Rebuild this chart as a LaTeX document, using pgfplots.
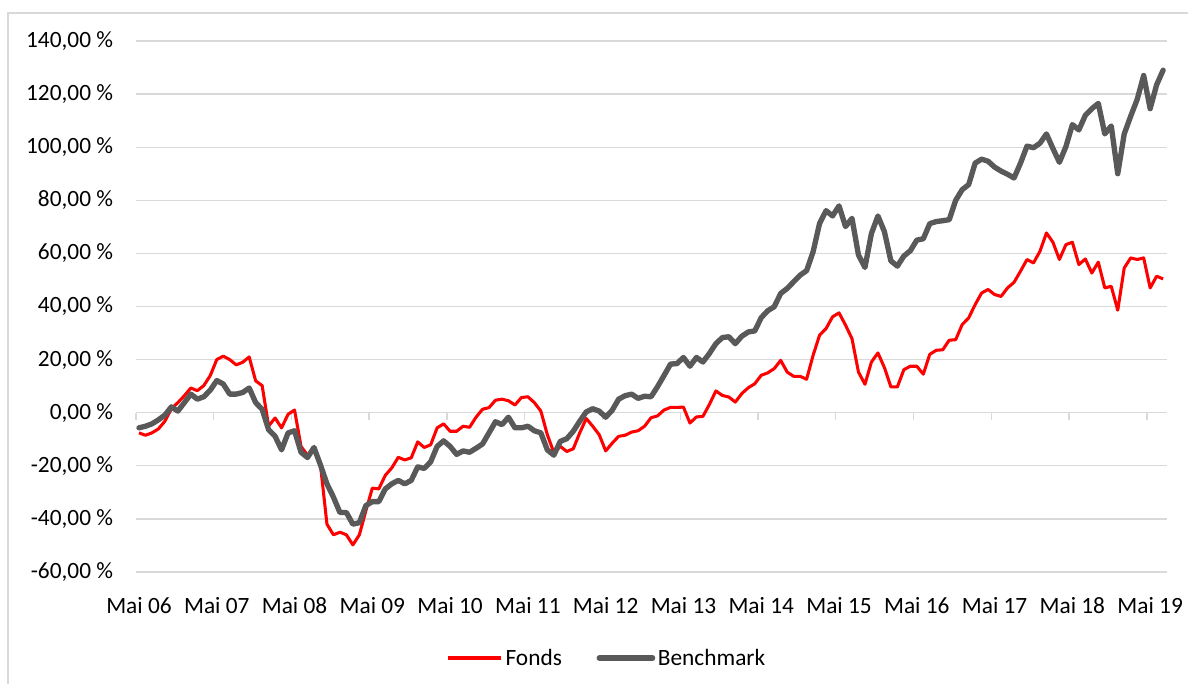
\documentclass[border=0pt]{standalone}
\usepackage{fontspec}
\setmainfont{Carlito}
\usepackage{pgfplots}
\pgfplotsset{compat=1.18}
\definecolor{fondsred}{HTML}{FF0000}
\definecolor{benchgray}{HTML}{595959}
\definecolor{gridgray}{HTML}{D9D9D9}
\definecolor{framegray}{HTML}{D9D9D9}

\begin{document}
\begin{tikzpicture}
\useasboundingbox (0,0) rectangle (891pt,513pt);
\draw[framegray, line width=1pt] (6pt,-20pt) -- (6pt,503.25pt) -- (920pt,503.25pt);
\begin{axis}[
  at={(102pt,84pt)}, anchor=south west,
  scale only axis, width=773.25pt, height=398.25pt,
  xmin=-0.46, xmax=158.6, ymin=-60, ymax=140,
  axis line style={draw=none},
  tick style={draw=none},
  clip=false,
  ytick={-60,-40,...,140},
  yticklabels={{-60,00 \%},{-40,00 \%},{-20,00 \%},{0,00 \%},{20,00 \%},{40,00 \%},{60,00 \%},{80,00 \%},{100,00 \%},{120,00 \%},{140,00 \%}},
  ymajorgrids, grid style={gridgray, line width=1pt},
  xtick={0,12,...,156},
  xticklabels={Mai 06,Mai 07,Mai 08,Mai 09,Mai 10,Mai 11,Mai 12,Mai 13,Mai 14,Mai 15,Mai 16,Mai 17,Mai 18,Mai 19},
  tick label style={font=\fontsize{17.5}{21}\selectfont, text=black},
  xticklabel style={anchor=north, inner sep=0pt, yshift=-19pt},
  yticklabel style={anchor=east, inner sep=0pt, xshift=-17pt},
  legend style={at={(0.457,-0.162)}, anchor=center, draw=none, fill=none,
    legend columns=2, font=\fontsize{17.5}{21}\selectfont,
    /tikz/every even column/.append style={column sep=24pt}},
  legend image code/.code={\draw[#1] (0pt,0pt) -- (40pt,0pt);},
]
\draw[gridgray, line width=1pt] (axis cs:-0.46,0) -- (axis cs:158.6,0);
\pgfplotsinvokeforeach{-0.46,11.5,23.5,35.5,47.5,59.5,71.5,83.5,95.5,107.5,119.5,131.5,143.5,155.5}{
  \draw[gridgray, line width=1pt] (axis cs:#1,0) -- ([yshift=-5.8pt]axis cs:#1,0);
}
\addplot[fondsred, line width=2.3pt, line join=round] coordinates {
(0,-7.6)(1,-8.5)(2,-7.6)(3,-6.1)(4,-3.2)(5,1.5)(6,3.8)(7,6.4)(8,9.3)(9,8.3)
(10,10.2)(11,14)(12,20)(13,21.3)(14,20)(15,18)(16,19)(17,21)(18,12)(19,10.2)
(20,-5)(21,-2)(22,-5.7)(23,-0.6)(24,1)(25,-12.7)(26,-16)(27,-14)(28,-19.7)(29,-42)
(30,-46)(31,-45)(32,-46)(33,-49.8)(34,-46)(35,-37)(36,-28.4)(37,-28.7)(38,-23.6)(39,-20.8)
(40,-16.8)(41,-17.8)(42,-17)(43,-11)(44,-13.1)(45,-12.1)(46,-5.7)(47,-4.2)(48,-7)(49,-7)
(50,-5.1)(51,-5.5)(52,-1.7)(53,1.3)(54,1.9)(55,4.7)(56,5.1)(57,4.5)(58,2.9)(59,5.7)
(60,6)(61,3.8)(62,0.6)(63,-8.3)(64,-15)(65,-12.7)(66,-14.6)(67,-13.6)(68,-7.6)(69,-2.2)
(70,-5.1)(71,-8.3)(72,-14.4)(73,-11.5)(74,-8.9)(75,-8.5)(76,-7.3)(77,-6.8)(78,-5.1)(79,-1.9)
(80,-1.2)(81,1)(82,2)(83,2)(84,2.1)(85,-3.9)(86,-1.6)(87,-1.4)(88,3.1)(89,8.2)
(90,6.5)(91,5.9)(92,4)(93,7.2)(94,9.4)(95,10.9)(96,14.1)(97,15)(98,16.6)(99,19.7)
(100,15.3)(101,13.7)(102,13.7)(103,12.6)(104,21.6)(105,29.2)(106,31.7)(107,36.1)(108,37.6)(109,33)
(110,27.9)(111,15.3)(112,10.7)(113,19.1)(114,22.5)(115,17)(116,9.7)(117,9.7)(118,16.2)(119,17.5)
(120,17.5)(121,14.5)(122,22)(123,23.5)(124,23.7)(125,27.3)(126,27.5)(127,33.2)(128,35.7)(129,40.7)
(130,45.1)(131,46.4)(132,44.5)(133,43.8)(134,47)(135,49.1)(136,53.3)(137,57.7)(138,56.4)(139,60.8)
(140,67.7)(141,64.2)(142,57.7)(143,63.3)(144,64.2)(145,55.8)(146,57.9)(147,52.6)(148,56.7)(149,47)
(150,47.6)(151,38.6)(152,54.5)(153,58.3)(154,57.7)(155,58.3)(156,47)(157,51.4)(158,50.4)
};
\addlegendentry{Fonds}
\addplot[benchgray, line width=4pt, line join=round, line cap=round] coordinates {
(0,-5.7)(1,-5.1)(2,-4.2)(3,-2.7)(4,-0.9)(5,2.2)(6,0.6)(7,3.8)(8,7)(9,5.1)
(10,6)(11,8.5)(12,12.1)(13,10.8)(14,7)(15,7)(16,7.6)(17,9.3)(18,3.8)(19,1.3)
(20,-6.4)(21,-8.9)(22,-14)(23,-7.6)(24,-6.8)(25,-14.9)(26,-16.9)(27,-13.1)(28,-19.7)(29,-26.8)
(30,-31.8)(31,-37.6)(32,-37.6)(33,-42)(34,-41.4)(35,-35)(36,-33.5)(37,-33.5)(38,-28.7)(39,-26.8)
(40,-25.5)(41,-26.8)(42,-25.5)(43,-20.4)(44,-21)(45,-18.5)(46,-12.7)(47,-10.6)(48,-12.7)(49,-15.7)
(50,-14.4)(51,-14.9)(52,-13.4)(53,-11.8)(54,-7.6)(55,-3.4)(56,-4.5)(57,-1.7)(58,-5.7)(59,-5.7)
(60,-5.1)(61,-6.8)(62,-7.6)(63,-14)(64,-16)(65,-10.8)(66,-9.8)(67,-7)(68,-3.2)(69,0.3)
(70,1.5)(71,0.6)(72,-1.7)(73,0.9)(74,5.1)(75,6.4)(76,7)(77,5.4)(78,6.2)(79,6)
(80,9.8)(81,14)(82,18.3)(83,18.5)(84,20.8)(85,17.5)(86,20.8)(87,19.1)(88,22.3)(89,26)
(90,28.3)(91,28.6)(92,26)(93,28.8)(94,30.4)(95,30.8)(96,35.8)(97,38.4)(98,39.9)(99,44.9)
(100,46.8)(101,49.3)(102,51.8)(103,53.5)(104,60.6)(105,71.3)(106,76.1)(107,74.1)(108,77.9)(109,70.1)
(110,73.2)(111,59.4)(112,54.7)(113,67.5)(114,74.1)(115,68.2)(116,57.2)(117,55.2)(118,59)(119,61)
(120,65)(121,65.5)(122,71.2)(123,72)(124,72.3)(125,72.7)(126,80)(127,84)(128,85.9)(129,94)
(130,95.5)(131,94.7)(132,92.5)(133,91)(134,89.8)(135,88.4)(136,94)(137,100.4)(138,99.8)(139,101.5)
(140,105)(141,99.5)(142,94.3)(143,100.2)(144,108.5)(145,106.5)(146,112)(147,114.5)(148,116.5)(149,105)
(150,108)(151,90)(152,105)(153,111.7)(154,118)(155,127)(156,114.5)(157,123.5)(158,129)
};
\addlegendentry{Benchmark}
\end{axis}
\end{tikzpicture}
\end{document}
